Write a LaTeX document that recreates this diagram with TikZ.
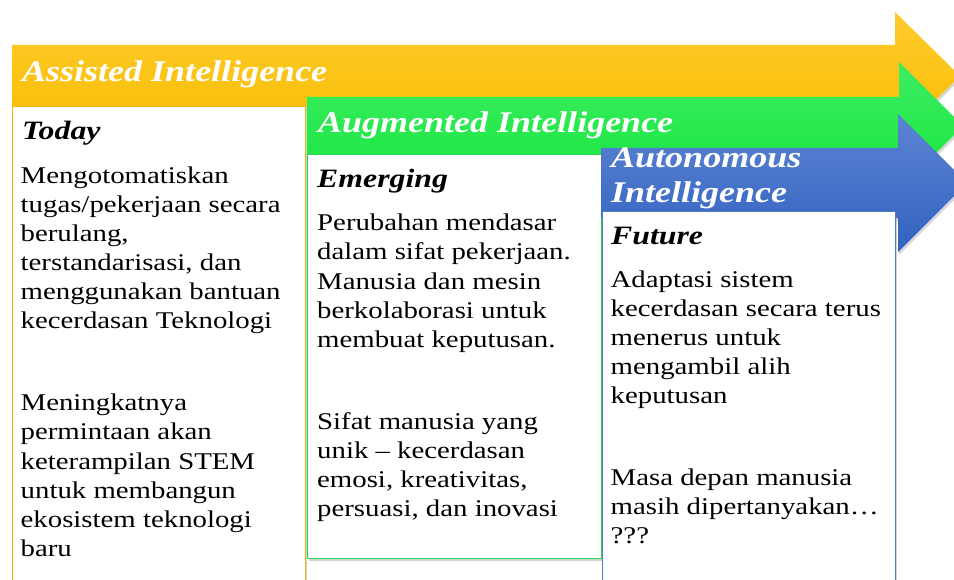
\documentclass[tikz,border=0pt]{standalone}
\usepackage{fontspec}
\setmainfont[FakeStretch=1.2]{Liberation Serif}
\usetikzlibrary{shadows}
\definecolor{ytop}{RGB}{255,202,45}
\definecolor{ybot}{RGB}{247,190,0}
\definecolor{gtop}{RGB}{62,236,98}
\definecolor{gbot}{RGB}{22,230,62}
\definecolor{btop}{RGB}{92,132,210}
\definecolor{bbot}{RGB}{50,98,192}
\definecolor{yline}{RGB}{240,180,20}
\definecolor{gline}{RGB}{40,214,80}
\definecolor{bline}{RGB}{82,122,192}
\tikzset{
  arrowshape/.style={drop shadow={shadow xshift=1pt,shadow yshift=-3pt,opacity=0.3}},
  panel/.style={fill=white,line width=1pt,drop shadow={shadow xshift=1.5pt,shadow yshift=-2.5pt,opacity=0.35}},
  bigtitle/.style={anchor=base west,inner sep=0pt,text=white,font=\fontsize{30}{33}\selectfont\bfseries\itshape},
  subtitle/.style={anchor=base west,inner sep=0pt,text=black,font=\fontsize{26.5}{30}\selectfont\bfseries\itshape},
  body/.style={anchor=north west,inner sep=0pt,align=left,font=\fontsize{24}{29.1}\selectfont},
}
\begin{document}
\begin{tikzpicture}[x=1pt,y=-1pt]
\useasboundingbox (0,0) rectangle (954,580);
\clip (0,0) rectangle (954,580);
% yellow arrow
\shade[arrowshape,top color=ytop,bottom color=ybot]
  (12,45) -- (895,45) -- (895,12) -- (960,76) -- (895,140) -- (895,107) -- (12,107) -- cycle;
% panel 1
\draw[panel,draw=yline] (12,107) rectangle (305,600);
% green arrow
\shade[arrowshape,top color=gtop,bottom color=gbot]
  (307,97) -- (899,97) -- (899,62) -- (963,126) -- (899,190) -- (899,155) -- (307,155) -- cycle;
% panel 2
\draw[panel,draw=gline] (307,155) rectangle (601,558);
% blue arrow
\shade[arrowshape,top color=btop,bottom color=bbot]
  (601,148) -- (898,148) -- (898,114) -- (967,183) -- (898,252) -- (898,218) -- (601,218) -- cycle;
% panel 3
\draw[panel,draw=bline] (602,212) rectangle (895,600);

% titles
\node[bigtitle] (t1) at (22,82) {Assisted Intelligence};
\node[bigtitle] (t2) at (318,133) {Augmented Intelligence};
\node[bigtitle] (t3a) at (611,168) {Autonomous};
\node[bigtitle] (t3b) at (611,203) {Intelligence};

% subtitles
\node[subtitle] (s1) at (22,140) {Today};
\node[subtitle] (s2) at (317,188) {Emerging};
\node[subtitle] (s3) at (611,245) {Future};

% body texts
\node[body] (b1a) at (20.5,162.9) {\strut Mengotomatiskan\\tugas/pekerjaan secara\\berulang,\\terstandarisasi, dan\\menggunakan bantuan\\kecerdasan Teknologi};
\node[body] (b1b) at (20.5,390.3) {\strut Meningkatnya\\permintaan akan\\keterampilan STEM\\untuk membangun\\ekosistem teknologi\\baru};
\node[body] (b2a) at (317,210.3) {\strut Perubahan mendasar\\dalam sifat pekerjaan.\\Manusia dan mesin\\berkolaborasi untuk\\membuat keputusan.};
\node[body] (b2b) at (317,408.9) {\strut Sifat manusia yang\\unik -- kecerdasan\\emosi, kreativitas,\\persuasi, dan inovasi};
\node[body] (b3a) at (610.5,266.9) {\strut Adaptasi sistem\\kecerdasan secara terus\\menerus untuk\\mengambil alih\\keputusan};
\node[body] (b3b) at (610.5,464.6) {\strut Masa depan manusia\\masih dipertanyakan…\\???};
\end{tikzpicture}
\end{document}
